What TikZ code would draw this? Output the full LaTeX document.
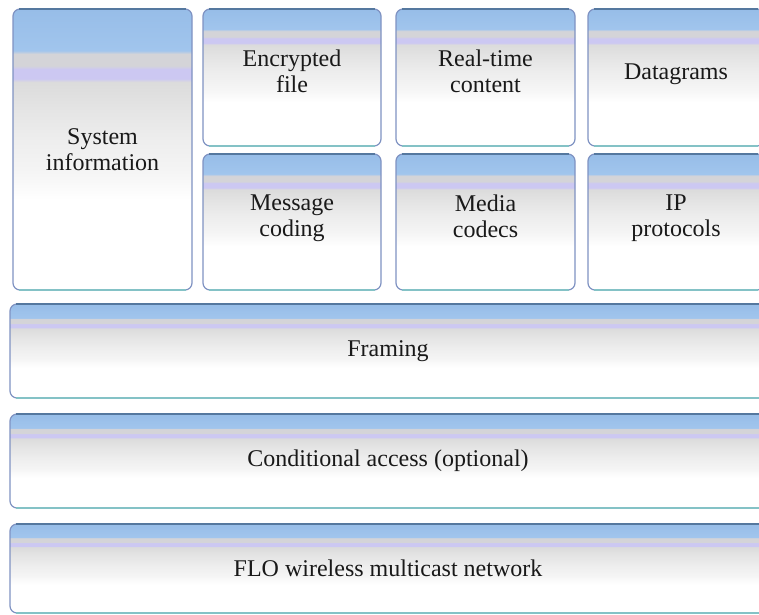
\documentclass[tikz,border=0pt]{standalone}
\usepackage{fontspec}
\setmainfont{LiberationSerif-Regular.ttf}
\usepackage{tikz}

\definecolor{layerblue}{HTML}{A1C5ED}
\definecolor{layertop}{HTML}{97BDE8}
\definecolor{layergray}{HTML}{D4D4D8}
\definecolor{layerlav}{HTML}{CCC8F2}
\definecolor{layeredge}{HTML}{7F92C2}
\definecolor{edgetop}{HTML}{55789F}
\definecolor{edgeteal}{HTML}{84C2C6}

% band of blue on top, fading over grey to white
\pgfdeclareverticalshading{layerfill}{100bp}{%
  color(0bp)=(white); color(41bp)=(white); color(46bp)=(black!4);
  color(52bp)=(black!7); color(58bp)=(black!11); color(62bp)=(black!14);
  color(62.6bp)=(layerlav); color(64.3bp)=(layerlav); color(64.9bp)=(layergray);
  color(67bp)=(layergray); color(67.6bp)=(layerblue); color(75bp)=(layertop);
  color(100bp)=(layertop)}

\begin{document}
\begin{tikzpicture}[x=1bp, y=-1bp,
    layer/.style={draw=layeredge, line width=1.2bp, rounded corners=7bp,
      shading=layerfill, anchor=north west, align=center, inner sep=0pt,
      outer sep=0pt, text=black!90, font=\rmfamily\fontsize{24bp}{26bp}\selectfont},
    lifted/.style={text depth=12bp},
    rim/.style={line width=1.2bp}]
  \useasboundingbox (0,0) rectangle (759,615);
  % left column
  \node[layer, minimum width=179bp, minimum height=281bp] (sysinfo) at (13,9) {System\\information};
  % upper row
  \node[layer, lifted, minimum width=178bp, minimum height=137bp] (encfile) at (203,9) {Encrypted\\file};
  \node[layer, lifted, minimum width=179bp, minimum height=137bp] (realtime) at (396,9) {Real-time\\content};
  \node[layer, lifted, minimum width=176bp, minimum height=137bp] (datagr) at (588,9) {Datagrams};
  % lower row
  \node[layer, lifted, minimum width=178bp, minimum height=136bp] (msgcod) at (203,154) {Message\\coding};
  \node[layer, lifted, minimum width=179bp, minimum height=136bp] (medcod) at (396,154) {Media\\codecs};
  \node[layer, lifted, minimum width=176bp, minimum height=136bp] (iproto) at (588,154) {IP\\protocols};
  % full-width layers
  \node[layer, minimum width=756bp, minimum height=94bp] (framing) at (10,304) {Framing};
  \node[layer, minimum width=756bp, minimum height=94bp] (condacc) at (10,414) {Conditional access (optional)};
  \node[layer, minimum width=756bp, minimum height=89bp] (flonet) at (10,524) {FLO wireless multicast network};
  % darker top rim, teal bottom rim
  \foreach \n in {sysinfo,encfile,realtime,datagr,msgcod,medcod,iproto,framing,condacc,flonet} {
    \draw[rim, edgetop] ([xshift=6bp]\n.north west) -- ([xshift=-6bp]\n.north east);
    \draw[rim, edgeteal] ([xshift=6bp]\n.south west) -- ([xshift=-6bp]\n.south east);
  }
\end{tikzpicture}
\end{document}
